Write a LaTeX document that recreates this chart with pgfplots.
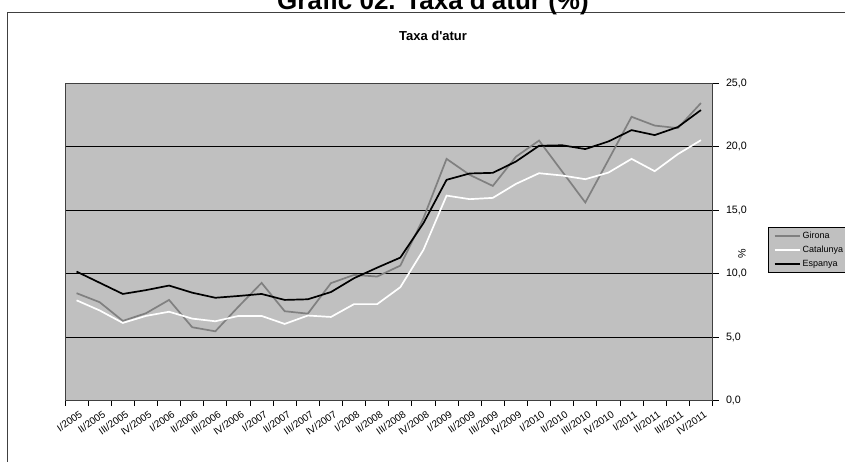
\documentclass[border=0pt]{standalone}
\usepackage{pgfplots}
\pgfplotsset{compat=1.18}
\usepackage{pgfplotstable}
\usepackage{fontspec}
\setmainfont{Liberation Sans}
\definecolor{plotbg}{RGB}{192,192,192}
\definecolor{gir}{RGB}{128,128,128}
\definecolor{frame}{RGB}{64,64,64}

\pgfplotstableread{
i gir cat esp
0 8.46 7.90 10.16
1 7.75 7.10 9.28
2 6.28 6.12 8.40
3 6.88 6.67 8.70
4 7.93 7.00 9.06
5 5.78 6.46 8.50
6 5.46 6.25 8.10
7 7.40 6.67 8.24
8 9.27 6.67 8.40
9 7.04 6.04 7.93
10 6.85 6.70 7.98
11 9.25 6.59 8.55
12 9.90 7.60 9.64
13 9.77 7.60 10.47
14 10.63 8.93 11.26
15 14.36 11.87 13.97
16 19.03 16.14 17.38
17 17.77 15.86 17.88
18 16.90 15.96 17.93
19 19.20 17.06 18.82
20 20.47 17.90 20.06
21 18.03 17.72 20.10
22 15.60 17.43 19.80
23 18.95 17.95 20.40
24 22.34 19.03 21.29
25 21.65 18.06 20.90
26 21.45 19.40 21.53
27 23.42 20.50 22.87
}\datatable

\begin{document}
\begin{tikzpicture}
\useasboundingbox (0pt,0pt) rectangle (845pt,462pt);
\clip (0pt,0pt) rectangle (845pt,462pt);
\fill[white] (0pt,0pt) rectangle (845pt,462pt);
\draw[line width=1pt, frame] (7.7pt,-5pt) -- (7.7pt,449.7pt) -- (850pt,449.7pt);
\node[anchor=base, font=\bfseries\fontsize{26}{26}\selectfont] at (433pt,452.5pt) {Gràfic 02. Taxa d\textquotesingle atur (\%)};
\node[font=\bfseries\fontsize{13}{13}\selectfont] at (433pt,426pt) {Taxa d\textquotesingle atur};
\begin{axis}[
  at={(65pt,61.3pt)}, anchor=south west,
  scale only axis, width=647.5pt, height=317.7pt,
  xmin=-0.5, xmax=27.5, ymin=0, ymax=25,
  axis background/.style={fill=plotbg},
  axis line style={frame, line width=0.8pt},
  xtick={0,...,27},
  xticklabels={I/2005,II/2005,III/2005,IV/2005,I/2006,II/2006,III/2006,IV/2006,I/2007,II/2007,III/2007,IV/2007,I/2008,II/2008,III/2008,IV/2008,I/2009,II/2009,III/2009,IV/2009,I/2010,II/2010,III/2010,IV/2010,I/2011,II/2011,III/2011,IV/2011},
  major x tick style={draw=none},
  minor xtick={-0.5,0.5,...,27.5},
  minor tick length=5pt,
  major tick length=6pt,
  minor x tick style={black, line width=0.8pt},
  xtick pos=bottom,
  tick align=outside,
  xticklabel style={rotate=35, anchor=north east, inner sep=1pt, font=\fontsize{10}{10}\selectfont, yshift=-3pt, xshift=1pt},
  ytick={0,5,...,25},
  ytick pos=right,
  yticklabel pos=right,
  y tick style={black, line width=0.8pt},
  yticklabel style={font=\fontsize{10.7}{10.7}\selectfont, xshift=4pt},
  /pgf/number format/.cd, fixed, fixed zerofill, precision=1, use comma, assume math mode=true,
  /pgfplots/.cd,
  ymajorgrids,
  major grid style={black, line width=0.8pt},
  ylabel={\%},
  ylabel style={at={(axis description cs:1.0456,0.4617)}, anchor=center, font=\fontsize{10.7}{10.7}\selectfont},
  legend style={at={(1.085,0.5477)}, anchor=north west, fill=plotbg, draw=black, line width=0.6pt,
    font=\fontsize{9}{9}\selectfont, inner xsep=6pt, inner ysep=3pt, row sep=2pt,
    cells={anchor=west}},
  legend image code/.code={\draw[#1] (0pt,0pt) -- (25pt,0pt);},
  legend cell align=left,
]
\addplot[gir, line width=1.7pt] table[x=i, y=gir] {\datatable};
\addlegendentry{Girona}
\addplot[white, line width=1.7pt] table[x=i, y=cat] {\datatable};
\addlegendentry{Catalunya}
\addplot[black, line width=1.7pt] table[x=i, y=esp] {\datatable};
\addlegendentry{Espanya}
\end{axis}
\end{tikzpicture}
\end{document}
